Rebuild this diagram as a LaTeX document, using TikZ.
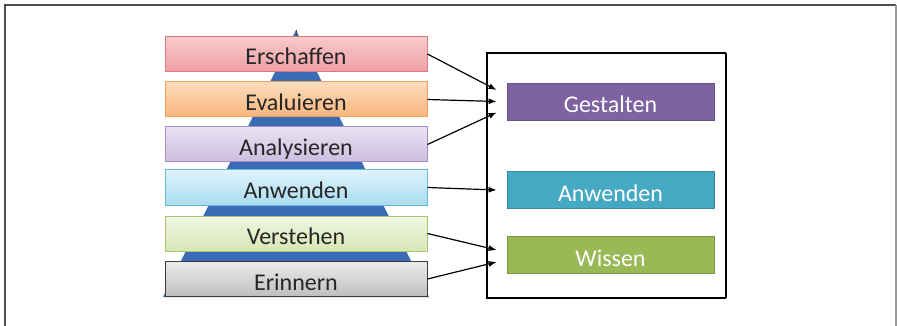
\documentclass[tikz,border=0pt]{standalone}
\usepackage{fontspec}
\setmainfont{Carlito}
\usepackage{tikz}
\usetikzlibrary{arrows.meta,calc}

% level colours (top, bottom, edge)
\definecolor{ersT}{HTML}{F8CACC}\definecolor{ersB}{HTML}{EE9FA4}\definecolor{ersE}{HTML}{D97C82}
\definecolor{evaT}{HTML}{FCDCBC}\definecolor{evaB}{HTML}{F9B57C}\definecolor{evaE}{HTML}{F0A05A}
\definecolor{anaT}{HTML}{EAE3F2}\definecolor{anaB}{HTML}{CCBDE0}\definecolor{anaE}{HTML}{A48FC4}
\definecolor{anwT}{HTML}{E0F3FA}\definecolor{anwB}{HTML}{A9DCEF}\definecolor{anwE}{HTML}{62BAD6}
\definecolor{verT}{HTML}{F0F6E0}\definecolor{verB}{HTML}{D8E6B5}\definecolor{verE}{HTML}{AAC474}
\definecolor{eriT}{HTML}{EBEBEB}\definecolor{eriB}{HTML}{BEBEBE}\definecolor{eriE}{HTML}{3C3C3C}
\definecolor{pyr}{HTML}{3A6BB5}
\definecolor{gest}{HTML}{7F62A2}
\definecolor{anw}{HTML}{46A9C4}
\definecolor{wis}{HTML}{98B955}

\tikzset{
  lvl/.style={minimum width=262pt, minimum height=35pt, inner sep=0pt,
    text height=22pt, text depth=0pt,
    font=\fontsize{24}{26}\selectfont, text=black!85, line width=1pt},
  goal/.style={minimum width=207pt, minimum height=37pt, inner sep=0pt,
    text height=22pt, text depth=0pt,
    font=\fontsize{24}{26}\selectfont, text=white, draw=#1!80!black, fill=#1, line width=0.8pt},
  link/.style={line width=1.2pt, -{Latex[length=8pt,width=6pt]}}
}

\begin{document}
\begin{tikzpicture}[x=1pt, y=-1pt]
\useasboundingbox (0,0) rectangle (897,326);

% outer frame, open at the bottom
\draw[black!70, line width=2pt] (5,326) -- (5,5) -- (896,5);
\draw[black!40, line width=1.5pt] (896,5) -- (896,326);

% pyramid behind the levels
\fill[pyr] (296,30) -- (429,297) -- (163,297) -- cycle;
\draw[black!70, line width=0.8pt] (296,30) -- (296,37);

% Bloom levels
\foreach \nm/\txt/\c/\y in {ers/Erschaffen/ers/54, eva/Evaluieren/eva/99.5,
    ana/Analysieren/ana/144.5, anw/Anwenden/anw/187.5,
    ver/Verstehen/ver/233.5, eri/Erinnern/eri/279}
  \node[lvl, draw=\c E, top color=\c T, bottom color=\c B] (\nm) at (296,\y) {\txt};

% goal frame
\draw[line width=2.5pt] (726,53) -- (487,53) -- (487,298) -- (726,298);
\draw[line width=1.2pt] (726,53) -- (726,298);

\node[goal=gest] (gestalten) at (610.5,101.5) {Gestalten};
\node[goal=anw] (anwenden) at (610.5,190) {Anwenden};
\node[goal=wis] (wissen) at (610.5,255) {Wissen};

\coordinate (g1) at ($(gestalten.west)+(-10,-11.5)$);
\coordinate (g2) at ($(gestalten.west)+(-10,0)$);
\coordinate (g3) at ($(gestalten.west)+(-10,11)$);
\coordinate (a1) at ($(anwenden.west)+(-10,0)$);
\coordinate (w1) at ($(wissen.west)+(-10,-5)$);
\coordinate (w2) at ($(wissen.west)+(-10,7)$);

\draw[link] (ers.east) -- (g1);
\draw[link] (eva.east) -- (g2);
\draw[link] (ana.east) -- (g3);
\draw[link] (anw.east) -- (a1);
\draw[link] (ver.east) -- (w1);
\draw[link] (eri.east) -- (w2);
\end{tikzpicture}
\end{document}
